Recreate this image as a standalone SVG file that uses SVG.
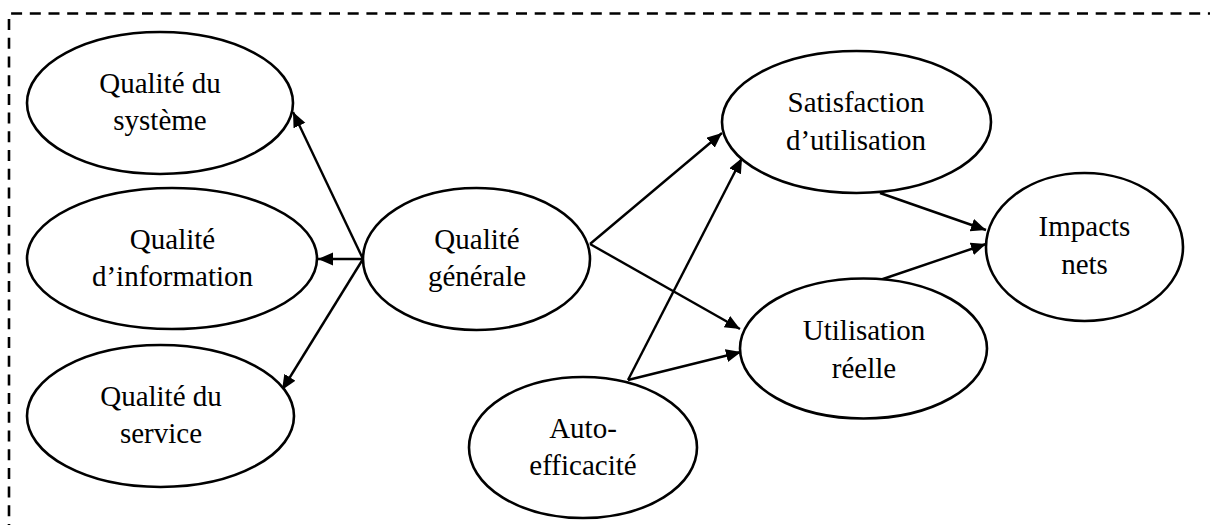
<svg xmlns="http://www.w3.org/2000/svg" width="1210" height="525" viewBox="0 0 1210 525">
  <style>
    .node { fill: #ffffff; stroke: #000000; stroke-width: 2.6; }
    .label { font-family: "Liberation Serif", "Times New Roman", serif; font-size: 29px; fill: #000000; text-anchor: middle; }
    .edge { stroke: #000000; stroke-width: 2.4; fill: none; marker-end: url(#arrow); }
    .frame { stroke: #000000; stroke-width: 2.6; fill: none; stroke-dasharray: 11 7.7; }
  </style>
  <defs>
    <marker id="arrow" markerUnits="userSpaceOnUse" markerWidth="18" markerHeight="16" refX="15" refY="6.5" orient="auto">
      <path d="M0,0 L15,6.5 L0,13 Z" fill="#000000"/>
    </marker>
  </defs>
  <rect width="1210" height="525" fill="#ffffff"/>

  <!-- open dashed frame: top and left sides -->
  <path class="frame" d="M9,535 L9,13.5 L1215,13.5"/>

  <!-- connectors -->
  <g id="connectors">
    <line class="edge" x1="363" y1="259" x2="293" y2="112"/>
    <line class="edge" x1="363" y1="259" x2="318" y2="259"/>
    <line class="edge" x1="363" y1="259" x2="282" y2="390"/>
    <line class="edge" x1="590" y1="244" x2="722" y2="133"/>
    <line class="edge" x1="590" y1="244" x2="740" y2="329"/>
    <line class="edge" x1="628" y1="380" x2="742" y2="158"/>
    <line class="edge" x1="628" y1="380" x2="741" y2="352"/>
    <line class="edge" x1="880" y1="193" x2="986" y2="230"/>
    <line class="edge" x1="880" y1="280" x2="986" y2="244"/>
  </g>

  <g id="qualite-systeme">
    <ellipse class="node" cx="160" cy="103" rx="133" ry="71"/>
    <text class="label" x="160" y="93">Qualité du</text>
    <text class="label" x="160" y="130">système</text>
  </g>

  <g id="qualite-information">
    <ellipse class="node" cx="172" cy="258.5" rx="145" ry="70.5"/>
    <text class="label" x="172.5" y="249">Qualité</text>
    <text class="label" x="172.5" y="286">d’information</text>
  </g>

  <g id="qualite-service">
    <ellipse class="node" cx="160.5" cy="416" rx="133.5" ry="71"/>
    <text class="label" x="161" y="406">Qualité du</text>
    <text class="label" x="161" y="443">service</text>
  </g>

  <g id="qualite-generale">
    <ellipse class="node" cx="476.5" cy="259" rx="113.5" ry="71"/>
    <text class="label" x="477" y="249">Qualité</text>
    <text class="label" x="477" y="286">générale</text>
  </g>

  <g id="auto-efficacite">
    <ellipse class="node" cx="583" cy="447.5" rx="114" ry="70.5"/>
    <text class="label" x="583" y="438">Auto-</text>
    <text class="label" x="583" y="475">efficacité</text>
  </g>

  <g id="satisfaction">
    <ellipse class="node" cx="856.5" cy="122" rx="134.5" ry="71"/>
    <text class="label" x="856" y="112">Satisfaction</text>
    <text class="label" x="856" y="150">d’utilisation</text>
  </g>

  <g id="utilisation">
    <ellipse class="node" cx="863.5" cy="348.5" rx="123.5" ry="70"/>
    <text class="label" x="864" y="340">Utilisation</text>
    <text class="label" x="864" y="378">réelle</text>
  </g>

  <g id="impacts">
    <ellipse class="node" cx="1084.5" cy="247" rx="98.5" ry="74"/>
    <text class="label" x="1084.5" y="236">Impacts</text>
    <text class="label" x="1084.5" y="274">nets</text>
  </g>
</svg>
